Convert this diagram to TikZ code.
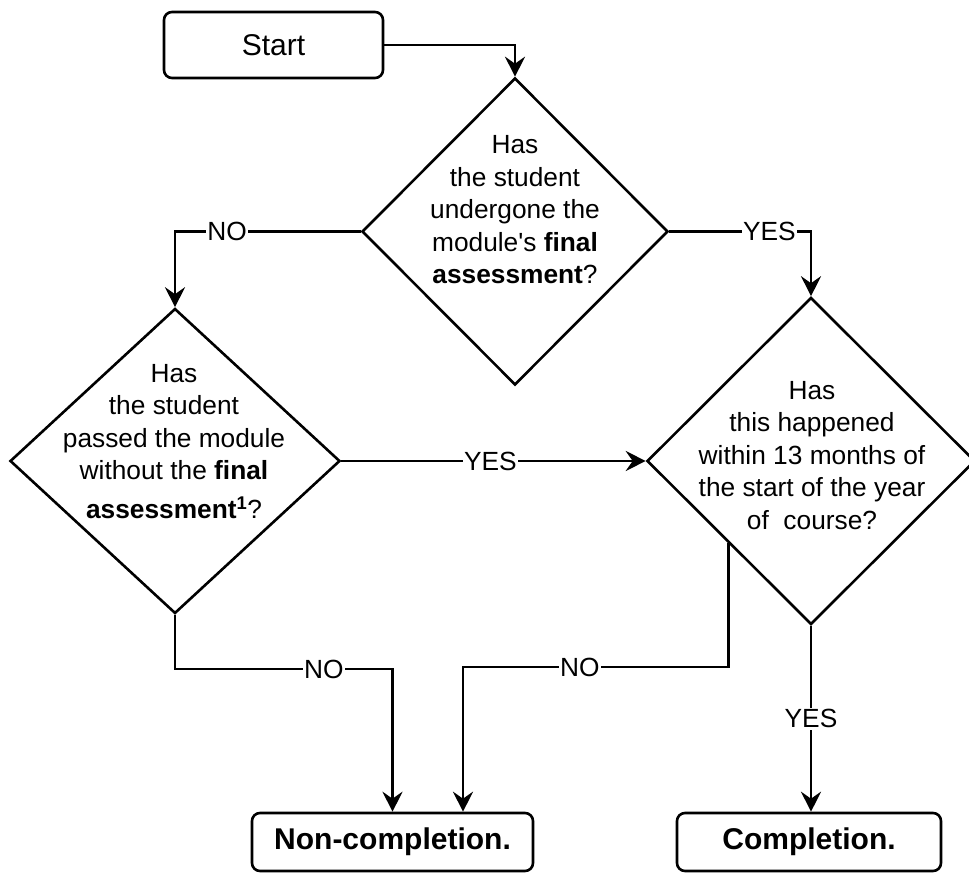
\documentclass[tikz,border=0pt]{standalone}
\usepackage{fontspec}
\setmainfont{Liberation Sans}
\newfontfamily\plainquote{Liberation Sans}
\usetikzlibrary{shapes.geometric,arrows.meta}
\begin{document}
\begin{tikzpicture}[x=1pt,y=-1pt,
  line width=2.6pt,
  arr/.style={-{Stealth[length=20pt,width=20pt,inset=7pt]}},
  box/.style={draw, rounded corners=8pt, inner sep=0pt, font=\fontsize{30}{36}\selectfont},
  dia/.style={draw, diamond, inner sep=0pt},
  qtext/.style={align=center, inner sep=0pt, font=\fontsize{26.3}{32.5}\selectfont},
  lab/.style={fill=white, inner sep=1.5pt, font=\fontsize{26.3}{32.5}\selectfont}
]
\useasboundingbox (0,0) rectangle (969,874);

% boxes
\node[box, minimum width=219pt, minimum height=66pt] (start) at (273.5,45) {Start};
\node[box, minimum width=281pt, minimum height=58pt] (nc) at (392.5,842) {\textbf{Non-completion.}};
\node[box, minimum width=264pt, minimum height=58pt] (comp) at (809,842) {\textbf{Completion.}};

% decisions
\node[dia, minimum width=306pt, minimum height=307pt] (d1) at (515,231.5) {};
\node[dia, minimum width=330pt, minimum height=305pt] (d2) at (175,461) {};
\node[dia, minimum width=328pt, minimum height=327pt] (d3) at (811,461) {};

\node[qtext] (t1) at (515,210) {Has\\the student\\undergone the\\module{\plainquote'}s \textbf{final}\\\textbf{assessment}?};
\node[qtext] (t2) at (174,441.5) {Has\\the student\\passed the module\\without the \textbf{final}\\[6pt]\textbf{assessment\textsuperscript{1}}?};
\node[qtext] (t3) at (812,455.5) {Has\\this happened\\within 13 months of\\the start of the year\\of\ \ course?};

% connectors
\draw[arr] (start.east) -| (d1.north);
\draw[arr] (d1.west) -| node[lab,pos=0.36] (l1) {NO} (d2.north);
\draw[arr] (d1.east) -| node[lab,pos=0.353] (l2) {YES} (d3.north);
\draw[arr] (d2.east) -- node[lab,pos=0.49] (l3) {YES} (d3.west);
\coordinate (k1) at (392.5,669);
\draw[arr] (d2.south) |- node[lab,pos=0.842] (l4) {NO} (k1) -- (nc.north);
\coordinate (k2) at (463,667);
\draw[arr] (d3.south west) |- node[lab,pos=0.78] (l5) {NO} (k2) -- (k2 |- nc.north);
\draw[arr] (d3.south) -- node[lab,pos=0.5] (l6) {YES} (d3.south |- comp.north);
\end{tikzpicture}
\end{document}
